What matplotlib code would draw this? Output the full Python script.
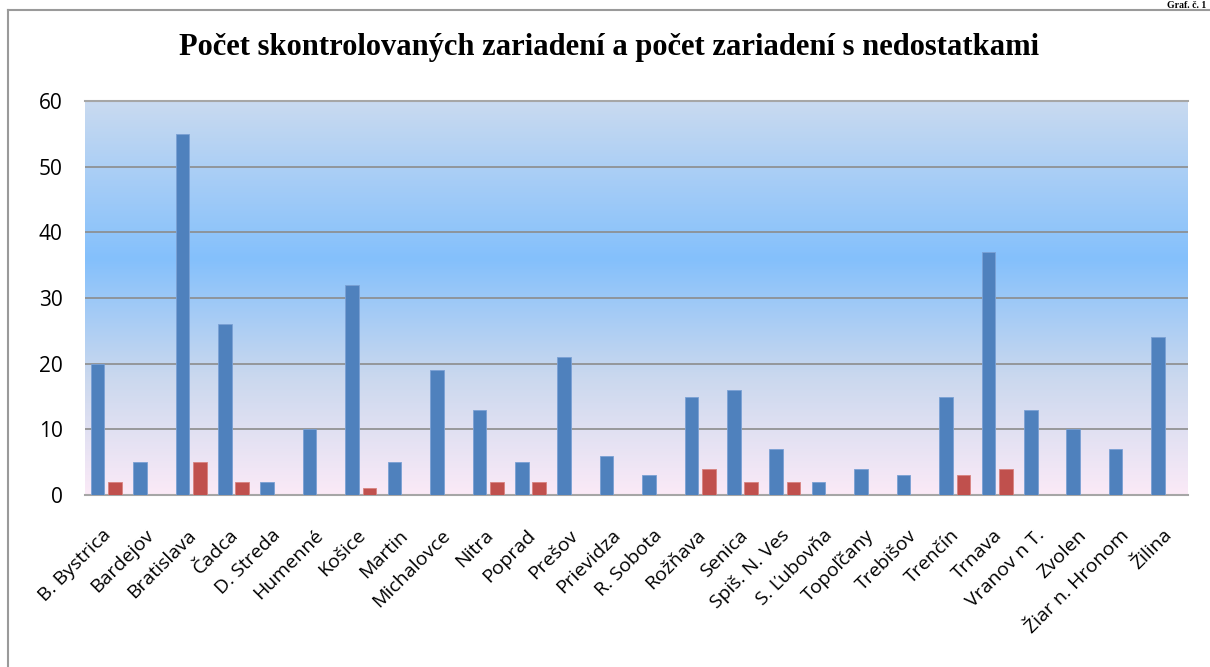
import matplotlib.pyplot as plt
import numpy as np
from matplotlib.colors import LinearSegmentedColormap
from matplotlib.lines import Line2D

# data
okresy = ['B. Bystrica', 'Bardejov', 'Bratislava', 'Čadca', 'D. Streda', 'Humenné',
          'Košice', 'Martin', 'Michalovce', 'Nitra', 'Poprad', 'Prešov', 'Prievidza',
          'R. Sobota', 'Rožňava', 'Senica', 'Spiš. N. Ves', 'S. Ľubovňa', 'Topoľčany',
          'Trebišov', 'Trenčín', 'Trnava', 'Vranov n T.', 'Zvolen', 'Žiar n. Hronom', 'Žilina']
skontrolovane = [20, 5, 55, 26, 2, 10, 32, 5, 19, 13, 5, 21, 6, 3, 15, 16, 7, 2, 4, 3, 15, 37, 13, 10, 7, 24]
s_nedostatkami = [2, 0, 5, 2, 0, 0, 1, 0, 0, 2, 2, 0, 0, 0, 4, 2, 2, 0, 0, 0, 3, 4, 0, 0, 0, 0]

fig = plt.figure(figsize=(12.1, 6.67), dpi=100)
ax = fig.add_axes([85 / 1210, 1 - 495 / 667, 1103 / 1210, 394 / 667])

# background gradient (top light blue -> strong blue -> pinkish white)
grad = LinearSegmentedColormap.from_list('bg', [(0.0, '#fbeaf7'), (0.3, '#cad8ee'),
                                                (0.6, '#84c0fc'), (1.0, '#c9daf0')])
ax.imshow(np.linspace(0, 1, 256).reshape(-1, 1), cmap=grad, aspect='auto',
          extent=[-0.5, len(okresy) - 0.5, 0, 60], origin='lower', zorder=0)

x = np.arange(len(okresy))
w = 0.32
ax.bar(x - 0.205, skontrolovane, w, color='#4f81bd', edgecolor='#7aa0d4', linewidth=0.6, zorder=3)
ax.bar(x + 0.205, s_nedostatkami, w, color='#c0504d', edgecolor='#d88380', linewidth=0.6, zorder=3)

ax.set_xlim(-0.5, len(okresy) - 0.5)
ax.set_ylim(0, 60)
ax.set_yticks(range(0, 61, 10))
ax.yaxis.grid(True, color='#8c8c8c', linewidth=1.2, zorder=1)
ax.set_axisbelow(True)
for s in ['left', 'right']:
    ax.spines[s].set_visible(False)
ax.spines['top'].set_color('#a6a6a6')
ax.spines['top'].set_linewidth(1.5)
ax.spines['bottom'].set_color('#a6a6a6')
ax.spines['bottom'].set_linewidth(1.5)
ax.tick_params(axis='y', length=0, pad=16, labelsize=15)
for t in ax.get_yticklabels():
    t.set_family('Open Sans')
ax.tick_params(axis='x', length=0, pad=27)
ax.set_xticks(x + 0.05)
ax.set_xticklabels(okresy, rotation=45, ha='right', va='center', rotation_mode='anchor',
                   fontsize=14, family='Open Sans')

fig.text(0.503, 1 - 55 / 667, 'Počet skontrolovaných zariadení a počet zariadení s nedostatkami',
         ha='center', va='baseline', fontsize=22, fontweight='bold', family='Liberation Serif')

# frame of the page and caption
fig.add_artist(Line2D([8 / 1210, 1], [1 - 10 / 667, 1 - 10 / 667], color='#9a9a9a', linewidth=1.5))
fig.add_artist(Line2D([8 / 1210, 8 / 1210], [0, 1 - 10 / 667], color='#9a9a9a', linewidth=1.5))
fig.text(1206 / 1210, 1 - 0.5 / 667, 'Graf. č. 1', ha='right', va='top', fontsize=7,
         fontweight='bold', family='Liberation Serif')

fig.savefig('out.png', dpi=100)
